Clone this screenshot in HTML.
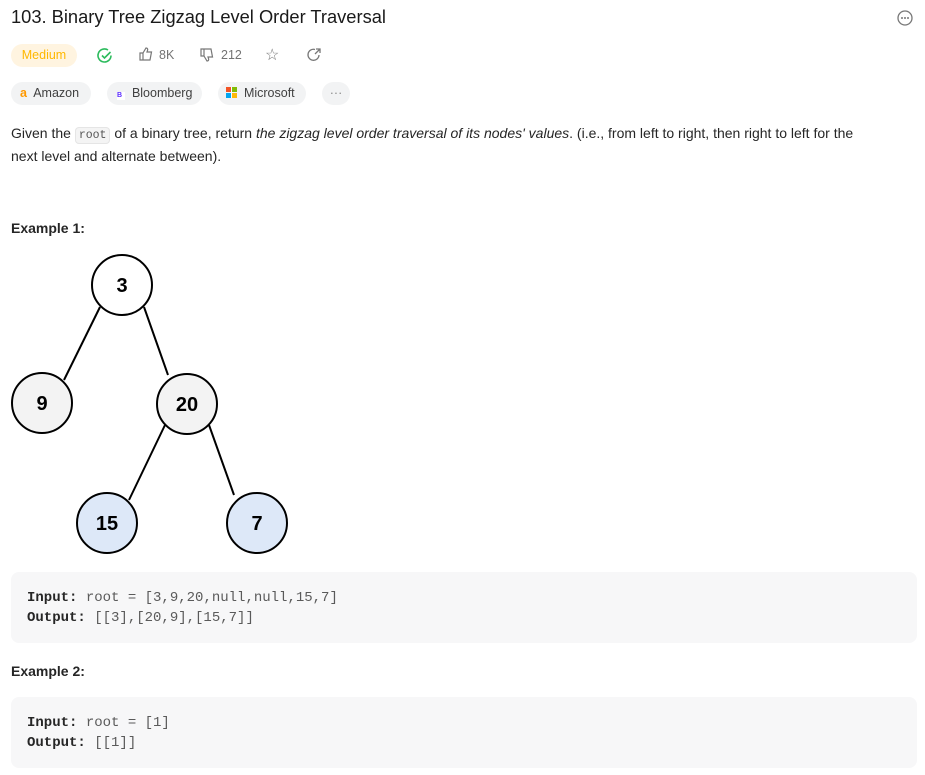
<!DOCTYPE html>
<html><head><meta charset="utf-8"><style>
body{margin:0;width:925px;height:775px;background:#fff;font-family:"Liberation Sans",sans-serif;color:#262626;position:relative;overflow:hidden}
.a{position:absolute}
.pill{position:absolute;height:23px;border-radius:12px;background:#f2f3f4;font-size:12.5px;line-height:23px;color:#404040}
.code{position:absolute;left:11px;width:906px;background:#f7f7f8;border-radius:8px;font-family:"Liberation Mono",monospace;font-size:14px;line-height:20px;color:#5a5a5a}
.code b{color:#262626}
</style></head><body>
<div class="a" style="left:11px;top:6px;font-size:18.3px;color:#1a1a1a">103. Binary Tree Zigzag Level Order Traversal</div>
<svg class="a" style="left:897px;top:10px" width="16" height="16"><circle cx="8" cy="8" r="7" fill="none" stroke="#777" stroke-width="1.3"/><circle cx="5" cy="8" r="1" fill="#777"/><circle cx="8" cy="8" r="1" fill="#777"/><circle cx="11" cy="8" r="1" fill="#777"/></svg>
<div class="pill" style="left:11px;top:44px;width:66px;background:#fff4e0;color:#ffb800;text-align:center">Medium</div>
<svg class="a" style="left:96px;top:47px" width="18" height="18"><path d="M15 8.5A6.5 6.5 0 1 1 12 3" fill="none" stroke="#2cbb5d" stroke-width="1.6"/><path d="M6 8.5l2.5 2.5 6-6" fill="none" stroke="#2cbb5d" stroke-width="1.6"/></svg>
<svg class="a" style="left:138px;top:46px" width="16" height="16"><path d="M2 7h3v7H2zM5 7l3-5c1.5 0 2 1 1.5 2.5L9 6h4.5l-1.5 8H5" fill="none" stroke="#777" stroke-width="1.2"/></svg>
<div class="a" style="left:159px;top:48px;font-size:12.5px;color:#737373">8K</div>
<svg class="a" style="left:199px;top:47px" width="16" height="16"><path d="M2 2h3v7H2zM5 9l3 5c1.5 0 2-1 1.5-2.5L9 10h4.5L12 2H5" fill="none" stroke="#777" stroke-width="1.2"/></svg>
<div class="a" style="left:221px;top:48px;font-size:12.5px;color:#737373">212</div>
<div class="a" style="left:265px;top:45px;font-size:16px;color:#777">☆</div>
<svg class="a" style="left:306px;top:47px" width="16" height="16"><path d="M13 8A5.5 5.5 0 1 1 9 2.5" fill="none" stroke="#777" stroke-width="1.3"/><path d="M9 7l5-5M10 2h4v4" fill="none" stroke="#777" stroke-width="1.3"/></svg>
<div class="pill" style="left:11px;top:82px;width:80px"><span style="color:#f90;margin-left:9px;font-weight:bold">a</span>&nbsp; Amazon</div>
<div class="pill" style="left:107px;top:82px;width:95px"><span style="display:inline-block;width:8px;height:8px;background:#fff;color:#5b2bff;font-size:7px;line-height:8px;margin-left:10px;font-weight:bold">B</span>&nbsp; Bloomberg</div>
<div class="pill" style="left:218px;top:82px;width:88px"><span style="display:inline-block;width:11px;height:11px;margin-left:8px;vertical-align:-1px;background:linear-gradient(90deg,transparent 5px,#fff 5px,#fff 6px,transparent 6px),linear-gradient(#f35325 0 0) 0 0/5px 5px no-repeat,linear-gradient(#81bc06 0 0) 6px 0/5px 5px no-repeat,linear-gradient(#05a6f0 0 0) 0 6px/5px 5px no-repeat,linear-gradient(#ffba08 0 0) 6px 6px/5px 5px no-repeat"></span>&nbsp; Microsoft</div>
<div class="pill" style="left:322px;top:82px;width:28px;text-align:center;color:#888">···</div>
<div class="a" style="left:11px;top:123px;font-size:14px;line-height:21px;width:868px">Given the <span style="font-family:'Liberation Mono',monospace;font-size:11.5px;background:#f4f4f4;border:1px solid #e5e5e5;border-radius:4px;padding:1px 3px;color:#555">root</span> of a binary tree, return <i>the zigzag level order traversal of its nodes' values</i>. (i.e., from left to right, then right to left for the next level and alternate between).</div>
<div class="a" style="left:11px;top:220px;font-size:14px;font-weight:bold">Example 1:</div>
<svg class="a" style="left:0;top:250px" width="320" height="310" font-family="Liberation Sans" font-weight="bold" font-size="20" text-anchor="middle">
<g stroke="#000" stroke-width="2"><line x1="100" y1="57" x2="64" y2="130"/><line x1="144" y1="57" x2="168" y2="125"/><line x1="165" y1="175" x2="129" y2="250"/><line x1="209" y1="175" x2="234" y2="245"/></g>
<g stroke="#000" stroke-width="2"><circle cx="122" cy="35" r="30" fill="#fff"/><circle cx="42" cy="153" r="30" fill="#f3f3f3"/><circle cx="187" cy="154" r="30" fill="#f3f3f3"/><circle cx="107" cy="273" r="30" fill="#dde8f8"/><circle cx="257" cy="273" r="30" fill="#dde8f8"/></g>
<text x="122" y="42">3</text><text x="42" y="160">9</text><text x="187" y="161">20</text><text x="107" y="280">15</text><text x="257" y="280">7</text>
</svg>
<div class="code" style="top:572px;height:71px"><div style="padding:16px 16px">
<b>Input:</b> root = [3,9,20,null,null,15,7]<br><b>Output:</b> [[3],[20,9],[15,7]]</div></div>
<div class="a" style="left:11px;top:663px;font-size:14px;font-weight:bold">Example 2:</div>
<div class="code" style="top:697px;height:71px"><div style="padding:16px 16px">
<b>Input:</b> root = [1]<br><b>Output:</b> [[1]]</div></div>
</body></html>
